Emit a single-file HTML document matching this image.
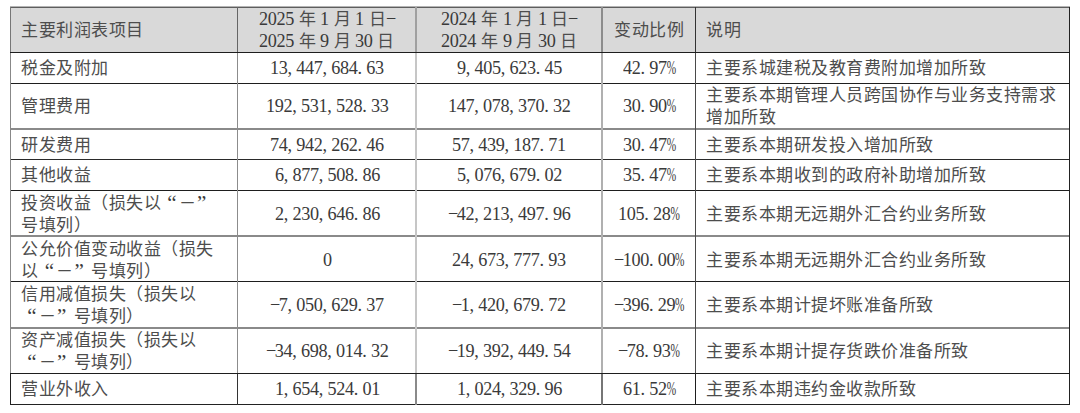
<!DOCTYPE html>
<html lang="zh-CN"><head><meta charset="utf-8"><style>
html,body{margin:0;padding:0;background:#fff;width:1080px;height:413px;overflow:hidden}
body{position:relative;font-family:"Liberation Serif",serif;font-size:17.5px;line-height:22px;color:#3a3a3a}
.hdr{position:absolute;left:10px;top:7px;width:1059px;height:45px;background:#d9d9d9}
.l{position:absolute}
.t{position:absolute;white-space:nowrap;height:22px}
.c{letter-spacing:0.5px;color:#4d4d4d;font-size:17px;position:relative;top:0px}
i{font-style:normal;display:inline-block}
.n{display:inline-block;font-size:18.8px;letter-spacing:-0.379px;transform:scaleX(0.97);transform-origin:0 50%;position:relative;top:0px}
.n i{letter-spacing:0}
.p{width:9.021px;text-align:left}
.m{width:9.021px;text-align:center}
.pc{width:9.021px;text-align:left;transform:scaleX(0.62);transform-origin:0 50%}
.sp{width:4.375px}
.ql{width:17.5px;box-sizing:border-box;padding-right:2px;text-align:right;font-size:21px;line-height:22px;vertical-align:top;position:relative;top:0px}
.qr{width:17.5px;box-sizing:border-box;padding-left:1px;text-align:left;font-size:21px;line-height:22px;vertical-align:top;position:relative;top:0px}
</style></head><body>
<div class="hdr"></div>
<div class="l" style="left:10px;width:1060px;top:6px;height:1px;background:#b4b4b4"></div>
<div class="l" style="left:10px;width:1060px;top:7px;height:1px;background:#5e5e5e"></div>
<div class="l" style="left:10px;width:1060px;top:52px;height:1px;background:#1e1e1e"></div>
<div class="l" style="left:10px;width:1060px;top:83px;height:1px;background:#1e1e1e"></div>
<div class="l" style="left:10px;width:1060px;top:128px;height:2px;background:#8a8a8a"></div>
<div class="l" style="left:10px;width:1060px;top:159px;height:1px;background:#2a2a2a"></div>
<div class="l" style="left:10px;width:1060px;top:190px;height:1px;background:#1e1e1e"></div>
<div class="l" style="left:10px;width:1060px;top:235px;height:2px;background:#8a8a8a"></div>
<div class="l" style="left:10px;width:1060px;top:281px;height:1px;background:#1e1e1e"></div>
<div class="l" style="left:10px;width:1060px;top:327px;height:2px;background:#8a8a8a"></div>
<div class="l" style="left:10px;width:1060px;top:373px;height:1px;background:#1e1e1e"></div>
<div class="l" style="left:10px;width:1060px;top:404px;height:1px;background:#222"></div>
<div class="l" style="top:7px;height:45px;left:10px;width:1px;background:#777"></div>
<div class="l" style="top:53px;height:320px;left:10px;width:1px;background:#888"></div>
<div class="l" style="top:374px;height:31px;left:10px;width:1px;background:#222"></div>
<div class="l" style="top:7px;height:45px;left:237px;width:1px;background:#666"></div>
<div class="l" style="top:53px;height:320px;left:237px;width:1px;background:#8c8c8c"></div>
<div class="l" style="top:374px;height:31px;left:237px;width:1px;background:#333"></div>
<div class="l" style="top:7px;height:45px;left:415px;width:2px;background:#a0a0a0"></div>
<div class="l" style="top:53px;height:320px;left:415px;width:2px;background:#c6c6c6"></div>
<div class="l" style="top:374px;height:31px;left:415px;width:2px;background:#8a8a8a"></div>
<div class="l" style="top:7px;height:45px;left:601px;width:2px;background:#8c8c8c"></div>
<div class="l" style="top:53px;height:320px;left:601px;width:2px;background:#b0b0b0"></div>
<div class="l" style="top:374px;height:31px;left:601px;width:2px;background:#767676"></div>
<div class="l" style="top:7px;height:45px;left:695px;width:1px;background:#333"></div>
<div class="l" style="top:53px;height:320px;left:695px;width:1px;background:#4a4a4a"></div>
<div class="l" style="top:374px;height:31px;left:695px;width:1px;background:#1e1e1e"></div>
<div class="l" style="top:7px;height:45px;left:1069px;width:1px;background:#222"></div>
<div class="l" style="top:53px;height:320px;left:1069px;width:1px;background:#222"></div>
<div class="l" style="top:374px;height:31px;left:1069px;width:1px;background:#222"></div>
<div class="t" style="left:21px;top:19.00px;"><span class="c">主要利润表项目</span></div>
<div class="t" style="left:259.24px;top:8.00px;"><span class="n" style="margin-right:-1.082px">2025</span><i class="sp"></i><span class="c">年</span><i class="sp"></i><span class="n" style="margin-right:-0.271px">1</span><i class="sp"></i><span class="c">月</span><i class="sp"></i><span class="n" style="margin-right:-0.271px">1</span><i class="sp"></i><span class="c">日</span><span class="n" style="margin-right:-0.271px"><i class="m">&#8722;</i></span></div>
<div class="t" style="left:259.24px;top:30.00px;"><span class="n" style="margin-right:-1.082px">2025</span><i class="sp"></i><span class="c">年</span><i class="sp"></i><span class="n" style="margin-right:-0.271px">9</span><i class="sp"></i><span class="c">月</span><i class="sp"></i><span class="n" style="margin-right:-0.541px">30</span><i class="sp"></i><span class="c">日</span></div>
<div class="t" style="left:441.49px;top:8.00px;"><span class="n" style="margin-right:-1.082px">2024</span><i class="sp"></i><span class="c">年</span><i class="sp"></i><span class="n" style="margin-right:-0.271px">1</span><i class="sp"></i><span class="c">月</span><i class="sp"></i><span class="n" style="margin-right:-0.271px">1</span><i class="sp"></i><span class="c">日</span><span class="n" style="margin-right:-0.271px"><i class="m">&#8722;</i></span></div>
<div class="t" style="left:441.49px;top:30.00px;"><span class="n" style="margin-right:-1.082px">2024</span><i class="sp"></i><span class="c">年</span><i class="sp"></i><span class="n" style="margin-right:-0.271px">9</span><i class="sp"></i><span class="c">月</span><i class="sp"></i><span class="n" style="margin-right:-0.541px">30</span><i class="sp"></i><span class="c">日</span></div>
<div class="t" style="left:614.05px;top:19.00px;"><span class="c">变动比例</span></div>
<div class="t" style="left:706px;top:19.00px;"><span class="c">说明</span></div>
<div class="t" style="left:21px;top:56.90px;"><span class="c">税金及附加</span></div>
<div class="t" style="left:270.18px;top:56.90px;"><span class="n" style="margin-right:-3.518px">13<i class="p">,</i>447<i class="p">,</i>684<i class="p">.</i>63</span></div>
<div class="t" style="left:456.80px;top:56.90px;"><span class="n" style="margin-right:-3.247px">9<i class="p">,</i>405<i class="p">,</i>623<i class="p">.</i>45</span></div>
<div class="t" style="left:622.80px;top:56.90px;"><span class="n" style="margin-right:-1.624px">42<i class="p">.</i>97<i class="pc">%</i></span></div>
<div class="t" style="left:706px;top:56.90px;"><span class="c">主要系城建税及教育费附加增加所致</span></div>
<div class="t" style="left:21px;top:95.25px;"><span class="c">管理费用</span></div>
<div class="t" style="left:265.80px;top:95.25px;"><span class="n" style="margin-right:-3.789px">192<i class="p">,</i>531<i class="p">,</i>528<i class="p">.</i>33</span></div>
<div class="t" style="left:448.05px;top:95.25px;"><span class="n" style="margin-right:-3.789px">147<i class="p">,</i>078<i class="p">,</i>370<i class="p">.</i>32</span></div>
<div class="t" style="left:622.80px;top:95.25px;"><span class="n" style="margin-right:-1.624px">30<i class="p">.</i>90<i class="pc">%</i></span></div>
<div class="t" style="left:706px;top:84.25px;"><span class="c">主要系本期管理人员跨国协作与业务支持需求</span></div>
<div class="t" style="left:706px;top:106.25px;"><span class="c">增加所致</span></div>
<div class="t" style="left:21px;top:133.65px;"><span class="c">研发费用</span></div>
<div class="t" style="left:270.18px;top:133.65px;"><span class="n" style="margin-right:-3.518px">74<i class="p">,</i>942<i class="p">,</i>262<i class="p">.</i>46</span></div>
<div class="t" style="left:452.43px;top:133.65px;"><span class="n" style="margin-right:-3.518px">57<i class="p">,</i>439<i class="p">,</i>187<i class="p">.</i>71</span></div>
<div class="t" style="left:622.80px;top:133.65px;"><span class="n" style="margin-right:-1.624px">30<i class="p">.</i>47<i class="pc">%</i></span></div>
<div class="t" style="left:706px;top:133.65px;"><span class="c">主要系本期研发投入增加所致</span></div>
<div class="t" style="left:21px;top:163.80px;"><span class="c">其他收益</span></div>
<div class="t" style="left:274.55px;top:163.80px;"><span class="n" style="margin-right:-3.247px">6<i class="p">,</i>877<i class="p">,</i>508<i class="p">.</i>86</span></div>
<div class="t" style="left:456.80px;top:163.80px;"><span class="n" style="margin-right:-3.247px">5<i class="p">,</i>076<i class="p">,</i>679<i class="p">.</i>02</span></div>
<div class="t" style="left:622.80px;top:163.80px;"><span class="n" style="margin-right:-1.624px">35<i class="p">.</i>47<i class="pc">%</i></span></div>
<div class="t" style="left:706px;top:163.80px;"><span class="c">主要系本期收到的政府补助增加所致</span></div>
<div class="t" style="left:21px;top:191.90px;"><span class="c">投资收益（损失以</span><i class="ql">&#8220;</i><span class="c">－</span><i class="qr">&#8221;</i></div>
<div class="t" style="left:21px;top:213.90px;"><span class="c">号填列）</span></div>
<div class="t" style="left:274.55px;top:202.90px;"><span class="n" style="margin-right:-3.247px">2<i class="p">,</i>230<i class="p">,</i>646<i class="p">.</i>86</span></div>
<div class="t" style="left:448.05px;top:202.90px;"><span class="n" style="margin-right:-3.789px"><i class="m">&#8722;</i>42<i class="p">,</i>213<i class="p">,</i>497<i class="p">.</i>96</span></div>
<div class="t" style="left:618.42px;top:202.90px;"><span class="n" style="margin-right:-1.894px">105<i class="p">.</i>28<i class="pc">%</i></span></div>
<div class="t" style="left:706px;top:202.90px;"><span class="c">主要系本期无远期外汇合约业务所致</span></div>
<div class="t" style="left:21px;top:238.00px;"><span class="c">公允价值变动收益（损失</span></div>
<div class="t" style="left:21px;top:260.00px;"><span class="c">以</span><i class="ql">&#8220;</i><span class="c">－</span><i class="qr">&#8221;</i><span class="c">号填列）</span></div>
<div class="t" style="left:322.68px;top:249.00px;"><span class="n" style="margin-right:-0.271px">0</span></div>
<div class="t" style="left:452.43px;top:249.00px;"><span class="n" style="margin-right:-3.518px">24<i class="p">,</i>673<i class="p">,</i>777<i class="p">.</i>93</span></div>
<div class="t" style="left:614.05px;top:249.00px;"><span class="n" style="margin-right:-2.165px"><i class="m">&#8722;</i>100<i class="p">.</i>00<i class="pc">%</i></span></div>
<div class="t" style="left:706px;top:249.00px;"><span class="c">主要系本期无远期外汇合约业务所致</span></div>
<div class="t" style="left:21px;top:283.30px;"><span class="c">信用减值损失（损失以</span></div>
<div class="t" style="left:21px;top:305.30px;"><i class="ql">&#8220;</i><span class="c">－</span><i class="qr">&#8221;</i><span class="c">号填列）</span></div>
<div class="t" style="left:270.18px;top:294.30px;"><span class="n" style="margin-right:-3.518px"><i class="m">&#8722;</i>7<i class="p">,</i>050<i class="p">,</i>629<i class="p">.</i>37</span></div>
<div class="t" style="left:452.43px;top:294.30px;"><span class="n" style="margin-right:-3.518px"><i class="m">&#8722;</i>1<i class="p">,</i>420<i class="p">,</i>679<i class="p">.</i>72</span></div>
<div class="t" style="left:614.05px;top:294.30px;"><span class="n" style="margin-right:-2.165px"><i class="m">&#8722;</i>396<i class="p">.</i>29<i class="pc">%</i></span></div>
<div class="t" style="left:706px;top:294.30px;"><span class="c">主要系本期计提坏账准备所致</span></div>
<div class="t" style="left:21px;top:328.65px;"><span class="c">资产减值损失（损失以</span></div>
<div class="t" style="left:21px;top:350.65px;"><i class="ql">&#8220;</i><span class="c">－</span><i class="qr">&#8221;</i><span class="c">号填列）</span></div>
<div class="t" style="left:265.80px;top:339.65px;"><span class="n" style="margin-right:-3.789px"><i class="m">&#8722;</i>34<i class="p">,</i>698<i class="p">,</i>014<i class="p">.</i>32</span></div>
<div class="t" style="left:448.05px;top:339.65px;"><span class="n" style="margin-right:-3.789px"><i class="m">&#8722;</i>19<i class="p">,</i>392<i class="p">,</i>449<i class="p">.</i>54</span></div>
<div class="t" style="left:618.42px;top:339.65px;"><span class="n" style="margin-right:-1.894px"><i class="m">&#8722;</i>78<i class="p">.</i>93<i class="pc">%</i></span></div>
<div class="t" style="left:706px;top:339.65px;"><span class="c">主要系本期计提存货跌价准备所致</span></div>
<div class="t" style="left:21px;top:377.90px;"><span class="c">营业外收入</span></div>
<div class="t" style="left:274.55px;top:377.90px;"><span class="n" style="margin-right:-3.247px">1<i class="p">,</i>654<i class="p">,</i>524<i class="p">.</i>01</span></div>
<div class="t" style="left:456.80px;top:377.90px;"><span class="n" style="margin-right:-3.247px">1<i class="p">,</i>024<i class="p">,</i>329<i class="p">.</i>96</span></div>
<div class="t" style="left:622.80px;top:377.90px;"><span class="n" style="margin-right:-1.624px">61<i class="p">.</i>52<i class="pc">%</i></span></div>
<div class="t" style="left:706px;top:377.90px;"><span class="c">主要系本期违约金收款所致</span></div>
</body></html>
